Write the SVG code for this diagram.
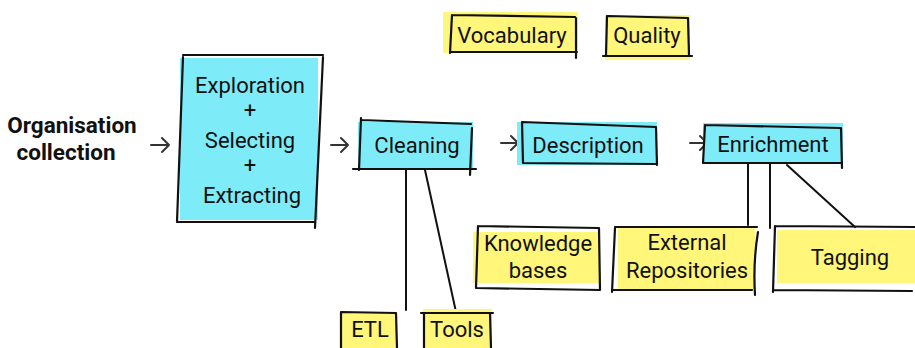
<svg xmlns="http://www.w3.org/2000/svg" width="915" height="348" viewBox="0 0 915 348">
<style>
.cy{fill:#7eebf9;stroke:none}
.ye{fill:#fff67a;stroke:none}
.bd{fill:none;stroke:#111;stroke-width:2.2;stroke-linecap:round;stroke-linejoin:round}
.ln{fill:none;stroke:#111;stroke-width:2;stroke-linecap:round}
.ar{fill:none;stroke:#333;stroke-width:2;stroke-linecap:round;stroke-linejoin:round}
text{font-family:Roboto,"Liberation Sans",Arial,sans-serif;font-size:22px;fill:#111;text-anchor:middle}
.b{font-weight:bold;font-size:22.5px}
</style>
<rect width="915" height="348" fill="#fff"/>
<g id="connectors">
<path class="ar" d="M151 145H169M162 138L169 145L162 152"/>
<path class="ar" d="M331 145H348M341 138L348 145L341 152"/>
<path class="ar" d="M501 143H518M511 136L518 143L511 150"/>
<path class="ar" d="M690 143H707M700 136L707 143L700 150"/>
<path class="ln" d="M406 170V310"/>
<path class="ln" d="M425 170L456 312"/>
<path class="ln" d="M748 163V225"/>
<path class="ln" d="M770 163V228"/>
<path class="ln" d="M787 165L855 227"/>
</g>
<g id="organisation">
<text class="b" x="72" y="133">Organisation</text>
<text class="b" x="66" y="160">collection</text>
</g>
<g id="exploration">
<rect class="cy" x="180" y="58" width="138" height="162"/>
<path class="bd" d="M183 55L323 55M183 57L177 222M177 222L315 222M323 57L315 228"/>
<text x="250" y="93">Exploration</text>
<text x="250" y="118">+</text>
<text x="250" y="148">Selecting</text>
<text x="250" y="173">+</text>
<text x="252" y="203">Extracting</text>
</g>
<g id="cleaning">
<rect class="cy" x="358" y="122" width="115" height="48"/>
<path class="bd" d="M361 118L361 120L471 124M361 118L359 170M353 169L476 169M472 128L470 175"/>
<text x="417" y="153">Cleaning</text>
</g>
<g id="description">
<rect class="cy" x="517" y="122" width="140" height="43"/>
<path class="bd" d="M522 122L656 127M522 122L523 163M523 163L656 164M656 127L657 165"/>
<text x="588" y="153">Description</text>
</g>
<g id="enrichment">
<rect class="cy" x="703" y="123" width="140" height="40"/>
<path class="bd" d="M705 125L840 128M705 125L703 163M703 163L842 163M841 128L842 168"/>
<text x="773" y="152">Enrichment</text>
</g>
<g id="vocabulary">
<rect class="ye" x="443" y="12" width="135" height="41"/>
<path class="bd" d="M452 15L575 17M452 15L450 53M450 52L577 52M576 18L576 58"/>
<text x="512" y="43">Vocabulary</text>
</g>
<g id="quality">
<rect class="ye" x="605" y="15" width="85" height="45"/>
<path class="bd" d="M608 16L688 18M607 16L606 55M603 56L692 56M688 18L689 55"/>
<text x="647" y="43">Quality</text>
</g>
<g id="knowledge">
<rect class="ye" x="473" y="232" width="127" height="51"/>
<path class="bd" d="M478 226L598 228M478 226L476 288M476 288L600 290M599 228L600 290"/>
<text x="538" y="251">Knowledge</text>
<text x="538" y="278">bases</text>
</g>
<g id="external">
<rect class="ye" x="618" y="228" width="137" height="62"/>
<path class="bd" d="M615 227L757 227M615 228L612 292M612 290L752 290M758 232Q753 262 755 295"/>
<text x="687" y="250">External</text>
<text x="687" y="278">Repositories</text>
</g>
<g id="tagging">
<rect class="ye" x="777" y="230" width="138" height="53"/>
<path class="bd" d="M775 226L915 227M775 226L773 292M773 290L912 291"/>
<text x="850" y="265">Tagging</text>
</g>
<g id="etl">
<rect class="ye" x="340" y="312" width="57" height="36"/>
<path class="bd" d="M341 312L396 313M341 312L341 348M396 313L397 348"/>
<text x="370" y="337">ETL</text>
</g>
<g id="tools">
<rect class="ye" x="423" y="309" width="69" height="39"/>
<path class="bd" d="M421 313L493 313M424 313L424 348M490 313L491 348"/>
<text x="457" y="337">Tools</text>
</g>
</svg>
